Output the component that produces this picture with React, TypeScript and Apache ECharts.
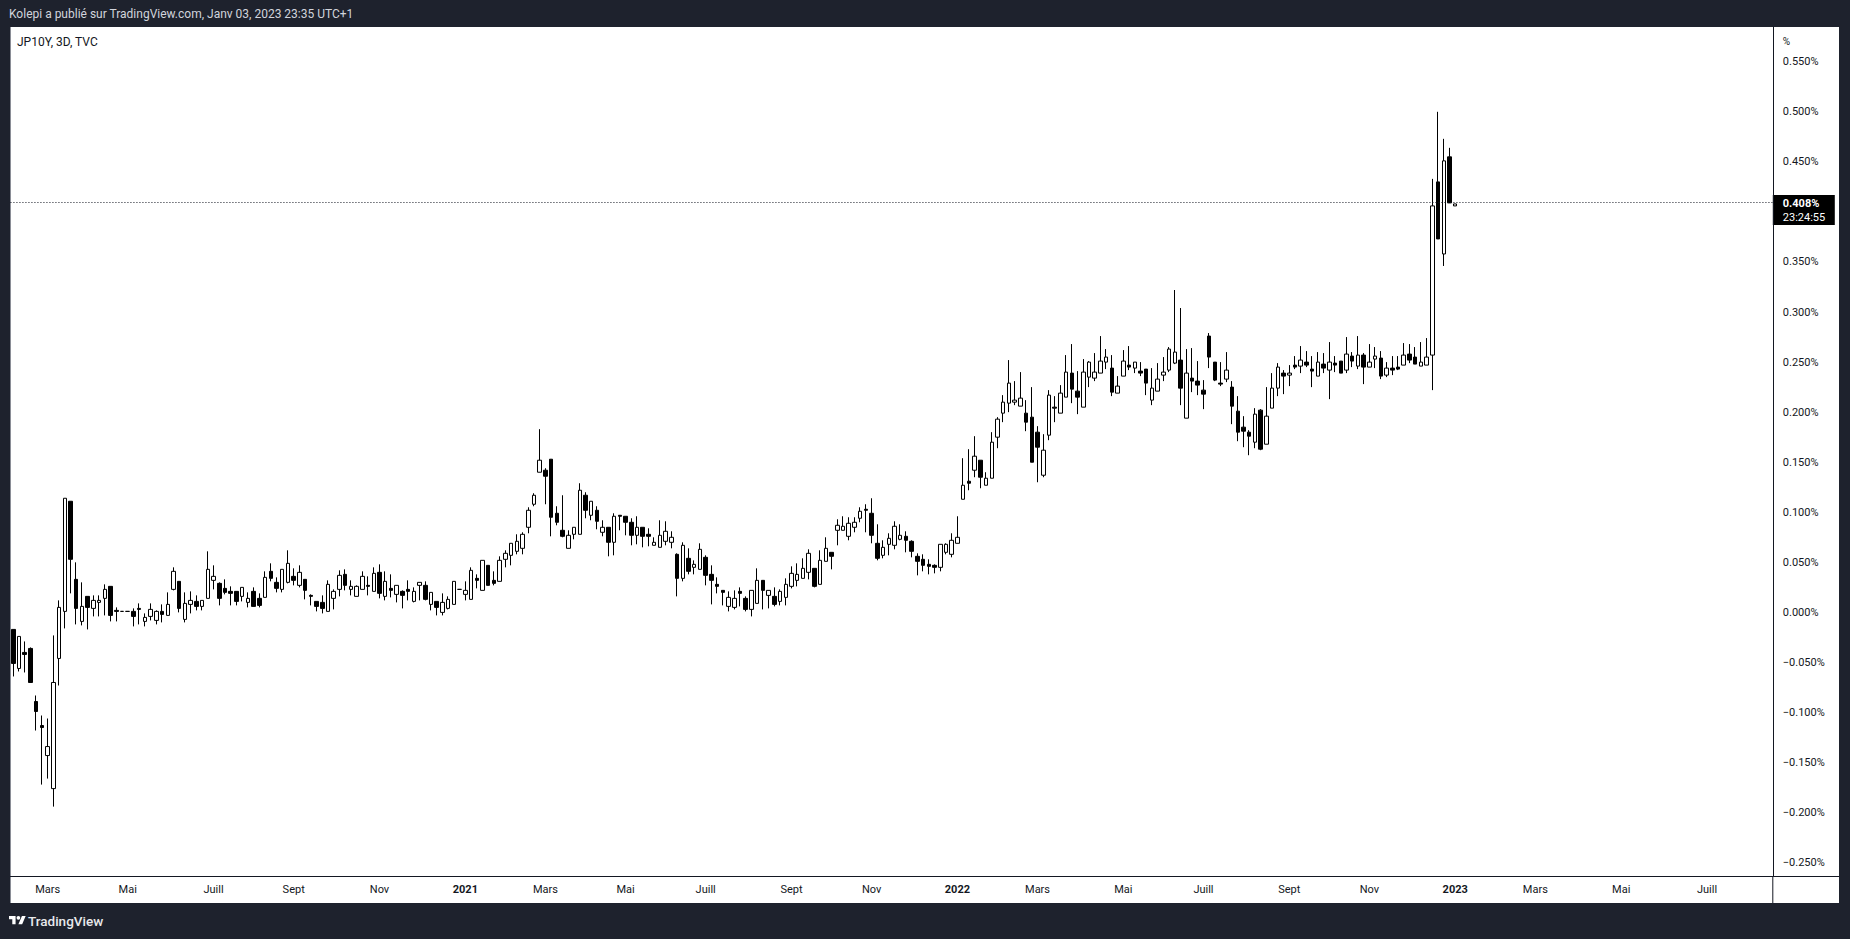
import React, { useEffect, useRef } from "react";
import * as echarts from "echarts";

// JP10Y, 3D candles, each row: [open, close, low, high] in %
const candles2020: number[][] = [
  [-0.017, -0.051, -0.064, -0.017], [-0.056, -0.024, -0.059, -0.024], [-0.040, -0.042, -0.060, -0.029],
  [-0.036, -0.070, -0.070, -0.035], [-0.089, -0.099, -0.118, -0.083], [-0.113, -0.115, -0.172, -0.103],
  [-0.143, -0.134, -0.166, -0.106], [-0.176, -0.070, -0.194, -0.023], [-0.046, 0.005, -0.073, 0.012],
  [0.001, 0.114, -0.016, 0.114], [0.111, 0.053, 0.019, 0.111], [0.033, 0.004, -0.012, 0.050],
  [-0.009, 0.006, -0.013, 0.030], [0.016, 0.005, -0.017, 0.016], [0.004, 0.012, -0.004, 0.017],
  [0.010, 0.012, -0.004, 0.017], [0.014, 0.023, -0.003, 0.028], [0.026, -0.003, -0.009, 0.026],
  [0.002, 0.001, -0.009, 0.005], [0.001, 0.001, 0.001, 0.001], [0.001, 0.001, 0.001, 0.001],
  [0.001, -0.004, -0.014, 0.004], [0.004, 0.003, -0.012, 0.009], [-0.009, -0.005, -0.014, -0.001],
  [-0.004, 0.003, -0.008, 0.009], [-0.008, 0.001, -0.012, 0.002], [0.001, -0.002, -0.010, 0.008],
  [-0.003, 0.008, -0.003, 0.020], [0.023, 0.041, 0.022, 0.045], [0.031, 0.004, 0.000, 0.031],
  [-0.007, 0.009, -0.010, 0.020], [0.008, 0.012, -0.001, 0.021], [0.011, 0.006, 0.002, 0.017],
  [0.006, 0.012, 0.002, 0.012], [0.014, 0.043, 0.014, 0.061], [0.032, 0.036, 0.023, 0.047],
  [0.029, 0.014, 0.007, 0.030], [0.024, 0.020, 0.018, 0.033], [0.021, 0.019, 0.007, 0.026],
  [0.021, 0.011, 0.007, 0.021], [0.016, 0.025, 0.011, 0.025], [0.010, 0.014, 0.005, 0.020],
  [0.021, 0.006, 0.006, 0.025], [0.014, 0.007, 0.005, 0.019], [0.015, 0.035, 0.015, 0.041],
  [0.041, 0.034, 0.031, 0.049], [0.030, 0.024, 0.020, 0.035], [0.023, 0.043, 0.020, 0.043],
  [0.030, 0.049, 0.029, 0.062], [0.036, 0.032, 0.027, 0.044], [0.027, 0.040, 0.025, 0.047],
  [0.033, 0.022, 0.013, 0.033], [0.017, 0.016, 0.007, 0.018], [0.011, 0.006, 0.001, 0.011],
  [0.010, 0.004, -0.001, 0.017], [0.001, 0.028, 0.001, 0.032], [0.014, 0.021, 0.003, 0.023],
  [0.023, 0.037, 0.016, 0.042], [0.038, 0.027, 0.022, 0.043], [0.023, 0.026, 0.017, 0.032],
  [0.016, 0.026, 0.016, 0.027], [0.023, 0.036, 0.023, 0.041], [0.027, 0.026, 0.017, 0.036],
  [0.021, 0.039, 0.021, 0.045], [0.040, 0.019, 0.014, 0.048], [0.016, 0.031, 0.012, 0.041],
  [0.024, 0.022, 0.015, 0.038], [0.018, 0.027, 0.010, 0.027], [0.021, 0.017, 0.004, 0.022],
  [0.023, 0.021, 0.012, 0.032], [0.011, 0.021, 0.010, 0.025], [0.027, 0.030, 0.012, 0.030],
  [0.027, 0.013, 0.012, 0.031], [0.008, 0.020, 0.002, 0.020], [0.011, 0.005, -0.003, 0.011],
  [0.000, 0.010, -0.003, 0.019], [0.004, 0.013, 0.003, 0.016], [0.008, 0.031, 0.008, 0.031],
  [0.023, 0.023, 0.023, 0.023],
];

const candles2021: number[][] = [
  [0.018, 0.022, 0.012, 0.031], [0.013, 0.042, 0.013, 0.045], [0.034, 0.032, 0.024, 0.038],
  [0.022, 0.052, 0.022, 0.052], [0.047, 0.027, 0.027, 0.047], [0.032, 0.029, 0.027, 0.041],
  [0.031, 0.052, 0.031, 0.056], [0.053, 0.059, 0.045, 0.062], [0.057, 0.069, 0.047, 0.069],
  [0.061, 0.071, 0.058, 0.078], [0.064, 0.078, 0.058, 0.080], [0.085, 0.102, 0.079, 0.105],
  [0.108, 0.117, 0.106, 0.119], [0.140, 0.152, 0.140, 0.183], [0.142, 0.136, 0.108, 0.144],
  [0.153, 0.095, 0.076, 0.153], [0.099, 0.090, 0.087, 0.106], [0.082, 0.076, 0.075, 0.117],
  [0.064, 0.077, 0.064, 0.082], [0.078, 0.085, 0.073, 0.085], [0.078, 0.122, 0.078, 0.129],
  [0.117, 0.102, 0.094, 0.120], [0.097, 0.111, 0.092, 0.111], [0.102, 0.091, 0.083, 0.106],
  [0.080, 0.085, 0.076, 0.092], [0.085, 0.070, 0.056, 0.085], [0.070, 0.096, 0.057, 0.099],
  [0.097, 0.096, 0.082, 0.097], [0.096, 0.090, 0.077, 0.096], [0.090, 0.077, 0.067, 0.094],
  [0.077, 0.085, 0.068, 0.096], [0.085, 0.076, 0.065, 0.085], [0.078, 0.076, 0.066, 0.084],
  [0.067, 0.070, 0.067, 0.075], [0.065, 0.077, 0.065, 0.092], [0.071, 0.081, 0.067, 0.091],
  [0.070, 0.075, 0.064, 0.081], [0.058, 0.034, 0.016, 0.059], [0.034, 0.067, 0.031, 0.070],
  [0.054, 0.041, 0.038, 0.064], [0.045, 0.048, 0.038, 0.052], [0.043, 0.063, 0.043, 0.069],
  [0.055, 0.037, 0.027, 0.057], [0.038, 0.032, 0.008, 0.047], [0.028, 0.026, 0.019, 0.035],
  [0.022, 0.020, 0.007, 0.022], [0.006, 0.015, 0.001, 0.021], [0.005, 0.014, 0.003, 0.022],
  [0.021, 0.019, 0.006, 0.025], [0.014, 0.003, 0.001, 0.016], [0.003, 0.022, -0.004, 0.022],
  [0.009, 0.032, 0.009, 0.044], [0.032, 0.022, 0.003, 0.032], [0.017, 0.022, 0.004, 0.022],
  [0.016, 0.008, 0.006, 0.025], [0.011, 0.021, 0.007, 0.023], [0.015, 0.028, 0.007, 0.034],
  [0.026, 0.039, 0.024, 0.046], [0.032, 0.038, 0.026, 0.049], [0.034, 0.044, 0.034, 0.054],
  [0.040, 0.059, 0.033, 0.063], [0.044, 0.026, 0.025, 0.044], [0.028, 0.052, 0.028, 0.062],
  [0.051, 0.064, 0.051, 0.075], [0.060, 0.056, 0.043, 0.060], [0.082, 0.087, 0.067, 0.093],
  [0.082, 0.086, 0.082, 0.096], [0.076, 0.089, 0.072, 0.095], [0.085, 0.090, 0.080, 0.095],
  [0.094, 0.101, 0.090, 0.105], [0.103, 0.102, 0.080, 0.108], [0.099, 0.077, 0.069, 0.114],
  [0.069, 0.054, 0.052, 0.088], [0.057, 0.065, 0.054, 0.072], [0.068, 0.074, 0.057, 0.079],
  [0.067, 0.086, 0.063, 0.091], [0.073, 0.077, 0.072, 0.088], [0.076, 0.072, 0.060, 0.081],
  [0.071, 0.061, 0.055, 0.072], [0.056, 0.051, 0.037, 0.059], [0.053, 0.047, 0.041, 0.058],
  [0.048, 0.046, 0.038, 0.053], [0.047, 0.045, 0.039, 0.048], [0.045, 0.068, 0.041, 0.068],
  [0.060, 0.068, 0.058, 0.069], [0.058, 0.072, 0.055, 0.079],
];

const candles2022: number[][] = [
  [0.069, 0.075, 0.069, 0.096], [0.113, 0.127, 0.113, 0.154], [0.131, 0.129, 0.122, 0.163],
  [0.142, 0.156, 0.135, 0.176], [0.152, 0.135, 0.124, 0.152], [0.127, 0.134, 0.127, 0.140],
  [0.134, 0.170, 0.134, 0.180], [0.175, 0.193, 0.164, 0.195], [0.199, 0.210, 0.190, 0.217],
  [0.209, 0.229, 0.200, 0.252], [0.210, 0.212, 0.207, 0.231], [0.206, 0.214, 0.206, 0.240],
  [0.199, 0.190, 0.181, 0.212], [0.195, 0.150, 0.150, 0.225], [0.180, 0.165, 0.130, 0.186],
  [0.137, 0.162, 0.135, 0.178], [0.177, 0.217, 0.172, 0.222], [0.205, 0.204, 0.190, 0.216],
  [0.199, 0.219, 0.199, 0.227], [0.215, 0.240, 0.215, 0.257], [0.239, 0.223, 0.209, 0.268],
  [0.221, 0.215, 0.198, 0.241], [0.205, 0.240, 0.205, 0.253], [0.235, 0.250, 0.225, 0.251],
  [0.234, 0.240, 0.231, 0.259], [0.239, 0.251, 0.239, 0.276], [0.250, 0.255, 0.243, 0.263],
  [0.244, 0.220, 0.216, 0.257], [0.219, 0.226, 0.219, 0.236], [0.236, 0.251, 0.236, 0.262],
  [0.247, 0.245, 0.242, 0.266], [0.244, 0.250, 0.239, 0.250], [0.241, 0.239, 0.236, 0.250],
  [0.243, 0.229, 0.217, 0.243], [0.212, 0.224, 0.207, 0.244], [0.221, 0.233, 0.221, 0.249],
  [0.237, 0.240, 0.231, 0.255], [0.242, 0.263, 0.240, 0.265], [0.249, 0.260, 0.248, 0.322],
  [0.252, 0.224, 0.207, 0.304], [0.194, 0.239, 0.194, 0.263], [0.234, 0.231, 0.220, 0.264],
  [0.231, 0.227, 0.217, 0.251], [0.222, 0.218, 0.203, 0.232], [0.276, 0.255, 0.244, 0.279],
  [0.250, 0.232, 0.231, 0.250], [0.229, 0.228, 0.226, 0.250], [0.233, 0.242, 0.230, 0.260],
  [0.225, 0.206, 0.188, 0.231], [0.201, 0.180, 0.171, 0.216], [0.185, 0.181, 0.165, 0.196],
  [0.180, 0.176, 0.157, 0.182], [0.170, 0.198, 0.164, 0.204], [0.202, 0.163, 0.162, 0.203],
  [0.168, 0.196, 0.168, 0.225], [0.204, 0.224, 0.204, 0.239], [0.224, 0.245, 0.216, 0.249],
  [0.239, 0.236, 0.218, 0.242], [0.237, 0.239, 0.226, 0.247], [0.247, 0.245, 0.243, 0.256],
  [0.246, 0.252, 0.239, 0.266], [0.250, 0.247, 0.245, 0.261], [0.243, 0.241, 0.225, 0.256],
  [0.236, 0.250, 0.236, 0.260], [0.248, 0.244, 0.239, 0.259], [0.242, 0.250, 0.213, 0.270],
  [0.249, 0.247, 0.240, 0.256], [0.251, 0.239, 0.239, 0.251], [0.242, 0.258, 0.239, 0.275],
  [0.256, 0.251, 0.245, 0.260], [0.246, 0.257, 0.243, 0.276], [0.257, 0.245, 0.228, 0.259],
  [0.245, 0.250, 0.245, 0.268], [0.253, 0.256, 0.244, 0.265], [0.254, 0.236, 0.233, 0.261],
  [0.237, 0.244, 0.235, 0.250], [0.244, 0.242, 0.237, 0.256], [0.245, 0.243, 0.242, 0.256],
  [0.247, 0.257, 0.247, 0.269], [0.258, 0.252, 0.249, 0.268], [0.255, 0.248, 0.248, 0.265],
  [0.246, 0.250, 0.246, 0.270], [0.247, 0.255, 0.247, 0.274], [0.257, 0.406, 0.222, 0.433],
  [0.430, 0.373, 0.373, 0.500], [0.358, 0.451, 0.346, 0.473], [0.455, 0.409, 0.409, 0.464],
];

const candles2023: number[][] = [[0.406, 0.408, 0.406, 0.408]];

// empty future bars to the right of the last candle
const futureBars = 55;

// month tick labels: [bar index, text, bold]
const timeTicks: [number, string, boolean][] = [
  [6, "Mars", false], [20, "Mai", false], [35, "Juill", false], [49, "Sept", false],
  [64, "Nov", false], [79, "2021", true], [93, "Mars", false], [107, "Mai", false],
  [121, "Juill", false], [136, "Sept", false], [150, "Nov", false], [165, "2022", true],
  [179, "Mars", false], [194, "Mai", false], [208, "Juill", false], [223, "Sept", false],
  [237, "Nov", false], [252, "2023", true], [266, "Mars", false], [281, "Mai", false],
  [296, "Juill", false],
];

const yMin = -0.2633;
const yMax = 0.5847;
const yStep = 0.05;
const lastPrice = 0.408;
const countdown = "23:24:55";
const headerText = "Kolepi a publié sur TradingView.com, Janv 03, 2023 23:35 UTC+1";
const symbolText = "JP10Y, 3D, TVC";

const FONT = "Roboto, 'Noto Sans', sans-serif";
const INK = "#131722";
const FRAME = "#1e222d";

let logoRegistered = false;
function registerLogo() {
  if (logoRegistered) return;
  logoRegistered = true;
  const d = "M14 22H7V11H0V4h14v18zM28 22h-8l7.5-18h8L28 22zM24 8a4 4 0 1 1-8 0a4 4 0 0 1 8 0z";
  echarts.graphic.registerShape("tvlogo", echarts.graphic.extendPath(d, {}) as any);
}

export default function App() {
  const ref = useRef<HTMLDivElement>(null);

  useEffect(() => {
    if (!ref.current) return;
    registerLogo();
    const chart = echarts.init(ref.current, null, { renderer: "svg" });

    const all = [...candles2020, ...candles2021, ...candles2022, ...candles2023].map(
      ([o, c, l, h]) => [o, c, Math.min(l, o, c), Math.max(h, o, c)]
    );
    const total = all.length + futureBars;
    const cats = Array.from({ length: total }, (_, i) => String(i));
    const tickMap = new Map<number, [string, boolean]>();
    timeTicks.forEach(([i, t, b]) => tickMap.set(i, [t, b]));

    chart.setOption({
      animation: false,
      backgroundColor: "transparent",
      grid: {
        left: 10.44,
        right: 77.2,
        top: 27,
        bottom: 63,
        containLabel: false,
        outerBoundsMode: "none",
      } as any,
      xAxis: {
        type: "category",
        data: cats,
        boundaryGap: true,
        axisLine: { show: true, onZero: false, lineStyle: { color: INK, width: 1 } },
        axisTick: { show: false },
        splitLine: { show: false },
        axisLabel: {
          interval: (i: number) => tickMap.has(i),
          formatter: (v: string) => {
            const t = tickMap.get(Number(v));
            if (!t) return "";
            return t[1] ? `{b|${t[0]}}` : t[0];
          },
          color: INK,
          fontSize: 11,
          fontFamily: FONT,
          margin: 8,
          rich: { b: { fontWeight: "bold", fontSize: 11, color: INK, fontFamily: FONT } },
        },
      },
      yAxis: {
        type: "value",
        position: "right",
        min: yMin,
        max: yMax,
        minInterval: yStep,
        maxInterval: yStep,
        splitNumber: 17,
        scale: true,
        axisLine: { show: true, lineStyle: { color: INK, width: 1 } },
        axisTick: { show: false },
        splitLine: { show: false },
        axisLabel: {
          margin: 10,
          color: INK,
          fontSize: 11,
          fontFamily: FONT,
          showMinLabel: false,
          showMaxLabel: false,
          formatter: (v: number) => {
            const k = v / yStep;
            if (Math.abs(k - Math.round(k)) > 1e-6) return "";
            let r = Math.round(k) * yStep;
            // the last-price tag covers the nearest level
            if (Math.abs(r - lastPrice) < yStep * 0.4) return "";
            if (Math.abs(r) < 1e-9) r = 0;
            const s = Math.abs(r).toFixed(3) + "%";
            return r < 0 ? "\u2212" + s : s;
          },
        },
      },
      series: [
        {
          type: "candlestick",
          data: all,
          barWidth: 4,
          itemStyle: {
            color: "#ffffff",
            color0: "#000000",
            borderColor: "#000000",
            borderColor0: "#000000",
            borderColorDoji: "#000000",
            borderWidth: 1,
          },
          markLine: {
            silent: true,
            symbol: ["none", "none"],
            label: { show: false },
            lineStyle: { type: [1, 2], color: INK, width: 1 },
            data: [{ yAxis: lastPrice }],
          },
        },
      ],
    });

    const py = chart.convertToPixel({ yAxisIndex: 0 }, lastPrice) as number;
    const rightEdge = 1850 - 77.2;

    chart.setOption({
      graphic: [
        { type: "line", id: "xext", shape: { x1: rightEdge, y1: 876.5, x2: 1839, y2: 876.5 }, style: { stroke: INK, lineWidth: 1 } },
        { type: "line", id: "yext", shape: { x1: rightEdge, y1: 876, x2: rightEdge, y2: 903 }, style: { stroke: INK, lineWidth: 1 } },
        { type: "line", id: "leftb", shape: { x1: 10.5, y1: 27, x2: 10.5, y2: 903 }, style: { stroke: "#8a8d96", lineWidth: 1 } },
        {
          type: "text", id: "hdr", x: 9, y: 14,
          style: { text: headerText, fill: "#d1d4dc", font: `12px ${FONT}`, verticalAlign: "middle", align: "left" },
        },
        {
          type: "text", id: "sym", x: 17, y: 42,
          style: { text: symbolText, fill: INK, font: `12px ${FONT}`, verticalAlign: "middle", align: "left" },
        },
        {
          type: "text", id: "pct", x: rightEdge + 10, y: 41,
          style: { text: "%", fill: INK, font: `10px ${FONT}`, verticalAlign: "middle", align: "left" },
        },
        {
          type: "rect", id: "pbox", shape: { x: rightEdge, y: py - 9, width: 62, height: 30 },
          style: { fill: "#000000" },
        },
        {
          type: "text", id: "ptxt", x: rightEdge + 10, y: py,
          style: { text: lastPrice.toFixed(3) + "%", fill: "#ffffff", font: `bold 11px ${FONT}`, verticalAlign: "middle", align: "left" },
        },
        {
          type: "text", id: "ctxt", x: rightEdge + 10, y: py + 14,
          style: { text: countdown, fill: "#ffffff", font: `11px ${FONT}`, verticalAlign: "middle", align: "left" },
        },
        {
          type: "tvlogo", id: "logo", x: 9, y: 914, scaleX: 0.47, scaleY: 0.47,
          style: { fill: "#ffffff" },
        } as any,
        {
          type: "text", id: "tv", x: 28, y: 921,
          style: { text: "TradingView", fill: "#e8e9ec", font: `500 13.5px ${FONT}`, verticalAlign: "middle", align: "left" },
        },
      ],
    });

    return () => chart.dispose();
  }, []);

  return (
    <div style={{ position: "fixed", left: 0, top: 0, width: 1850, height: 939, background: FRAME, overflow: "hidden" }}>
      <div style={{ position: "absolute", left: 10, top: 27, width: 1829, height: 876, background: "#ffffff" }} />
      <div ref={ref} style={{ position: "absolute", left: 0, top: 0, width: 1850, height: 939 }} />
    </div>
  );
}
